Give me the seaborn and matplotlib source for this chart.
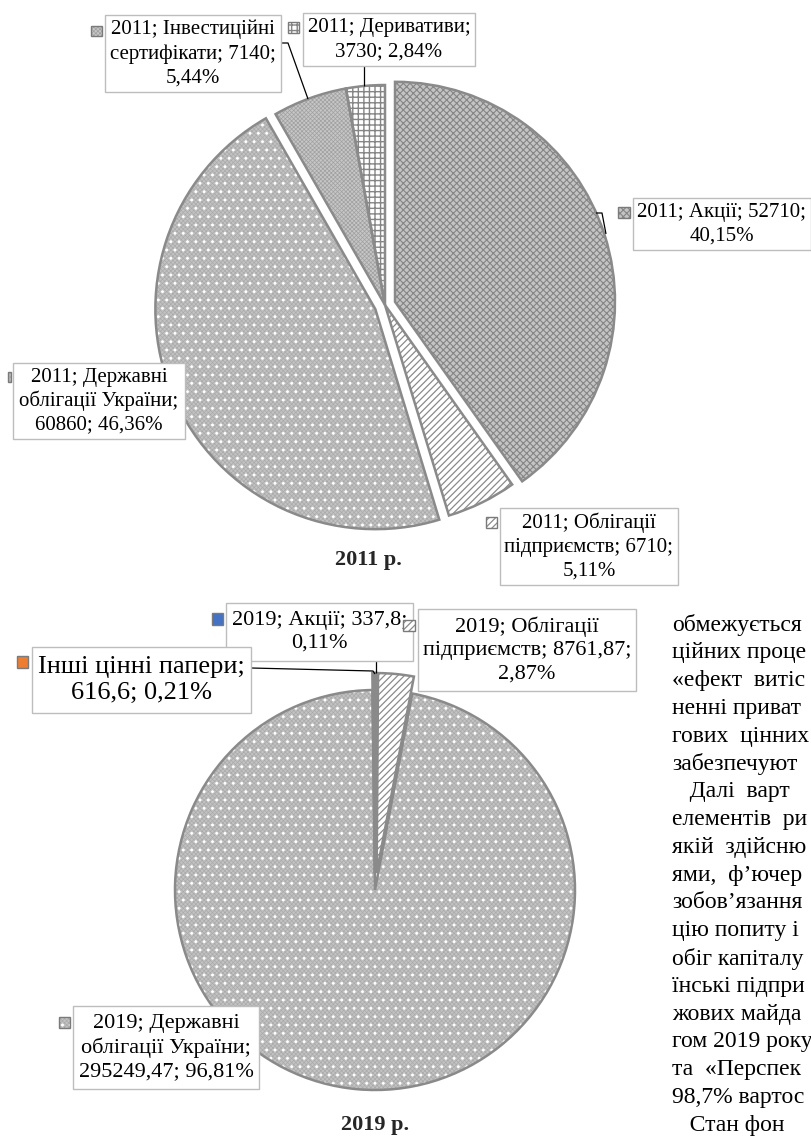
import matplotlib
matplotlib.use("Agg")
import matplotlib.pyplot as plt
from matplotlib.patches import Rectangle
import seaborn as sns

sns.set_theme(style="white")
plt.rcParams["font.family"] = ["Liberation Serif", "DejaVu Serif"]
plt.rcParams["hatch.linewidth"] = 0.8

# ---------------- data ----------------
cats_2011 = ["Акції", "Облігації підприємств", "Державні облігації України",
             "Інвестиційні сертифікати", "Деривативи"]
vals_2011 = [52710, 6710, 60860, 7140, 3730]
pct_2011 = ["40,15%", "5,11%", "46,36%", "5,44%", "2,84%"]
labels_2011 = ["2011; Акції; 52710;\n40,15%",
               "2011; Облігації\nпідприємств; 6710;\n5,11%",
               "2011; Державні\nоблігації України;\n60860; 46,36%",
               "2011; Інвестиційні\nсертифікати; 7140;\n5,44%",
               "2011; Деривативи;\n3730; 2,84%"]

cats_2019 = ["Акції", "Облігації підприємств", "Державні облігації України",
             "Інші цінні папери"]
vals_2019 = [337.8, 8761.87, 295249.47, 616.6]
pct_2019 = ["0,11%", "2,87%", "96,81%", "0,21%"]
labels_2019 = ["2019; Акції; 337,8;\n0,11%",
               "2019; Облігації\nпідприємств; 8761,87;\n2,87%",
               "2019; Державні\nоблігації України;\n295249,47; 96,81%",
               "Інші цінні папери;\n616,6; 0,21%"]

titles = ["2011 р.", "2019 р."]

body_lines = ["обмежується", "ційних проце", "«ефект  витіс", "ненні приват",
              "гових  цінних", "забезпечуют", "   Далі  варт", "елементів  ри",
              "якій  здійсню", "ями,  ф’ючер", "зобов’язання", "цію попиту і",
              "обіг капіталу", "їнські підпри", "жових майда", "гом 2019 року",
              "та  «Перспек", "98,7% вартос", "   Стан фон"]

# ---------------- styles ----------------
EDGE = "#8a8a8a"
S_AKC = dict(face="#c4c4c4", layers=[("xxxxx", "#858585", 0.8)])
S_OBL = dict(face="white", layers=[("/////", "#8a8a8a", 0.9)])
S_DER = dict(face="#c2c2c2", layers=[("xxxxxxxx", "#a9a9a9", 0.45),
                                     ("..", "white", 0.9)])
S_INV = dict(face="#c6c6c6", layers=[("xxxxxxxx", "#a0a0a0", 0.5)])
S_DRV = dict(face="white", layers=[("+++", "#858585", 1.0)])
S_BLUE = dict(face="#4472C4", layers=[])
S_ORNG = dict(face="#ED7D31", layers=[])
styles_2011 = [S_AKC, S_OBL, S_DER, S_INV, S_DRV]
styles_2019 = [S_BLUE, S_OBL, S_DER, S_ORNG]

fig = plt.figure(figsize=(8.12, 11.4), dpi=100)
ax = fig.add_axes([0, 0, 1, 1])


def apply_hatch(p, h, c, lw):
    p.set_hatch(h)
    p.set_edgecolor(c)
    p.set_linewidth(0)
    p.set_facecolor("none")
    if hasattr(p, "set_hatch_linewidth"):
        p.set_hatch_linewidth(lw)


def draw_pie(vals, styles, center, radius, explode):
    common = dict(startangle=-90, counterclock=True, center=center,
                  radius=radius, explode=explode, frame=True)
    n = len(vals)
    ax.pie(vals, colors=[s["face"] for s in styles],
           wedgeprops=dict(linewidth=0, edgecolor="none"), **common)
    nl = max(len(s["layers"]) for s in styles)
    for k in range(nl):
        ws, _ = ax.pie(vals, colors=["none"] * n,
                       wedgeprops=dict(linewidth=0), **common)
        for w, s in zip(ws, styles):
            if k < len(s["layers"]):
                apply_hatch(w, *s["layers"][k])
            else:
                w.set_visible(False)
    ax.pie(vals, colors=["none"] * n,
           wedgeprops=dict(linewidth=1.8, edgecolor=EDGE), **common)


def key(x0, y0, x1, y1, s):
    ax.add_patch(Rectangle((x0, y0), x1 - x0, y1 - y0, fc=s["face"],
                           ec="none", lw=0, zorder=6))
    for h, c, lw in s["layers"]:
        r = Rectangle((x0, y0), x1 - x0, y1 - y0, zorder=6)
        apply_hatch(r, h, c, lw)
        ax.add_patch(r)
    ax.add_patch(Rectangle((x0, y0), x1 - x0, y1 - y0, fc="none",
                           ec="#7a7a7a", lw=1.0, zorder=6))


def label_box(x0, y0, x1, y1, txt, fs=15, ls=1.34, z=4):
    ax.add_patch(Rectangle((x0, y0), x1 - x0, y1 - y0, fc="white",
                           ec="#bdbdbd", lw=1.0, zorder=z))
    ax.text((x0 + x1) / 2, (y0 + y1) / 2, txt, ha="center", va="center",
            multialignment="center", fontsize=fs, linespacing=ls,
            color="black", zorder=z + 0.5)


def leader(pts):
    ax.plot([p[0] for p in pts], [p[1] for p in pts], color="black",
            lw=0.9, zorder=3, solid_capstyle="butt")


# ---------------- 2011 pie ----------------
draw_pie(vals_2011, styles_2011, (385, 305), 220, [10.5, 0, 10.5, 0, 0])
leader([(281, 43), (288, 43), (308, 99)])
leader([(364, 66), (364, 86)])
leader([(596, 213), (602, 213), (606, 234)])

label_box(633, 198, 811, 250, labels_2011[0])
key(618, 207, 630, 218, styles_2011[0])
label_box(500, 508, 678, 585, labels_2011[1])
key(486, 517, 497, 528, styles_2011[1])
label_box(13, 363, 185, 439, labels_2011[2], ls=1.25)
key(8, 372, 11, 382, styles_2011[2])
label_box(105, 15, 281, 92, labels_2011[3])
key(91, 26, 102, 36, styles_2011[3])
label_box(303, 13, 475, 66, labels_2011[4])
key(288, 22, 299, 33, styles_2011[4])
ax.text(368, 560, titles[0], ha="center", va="center", fontsize=16,
        fontweight="bold")

# ---------------- 2019 pie ----------------
draw_pie(vals_2019, styles_2019, (375, 890), 200, [17, 17, 0, 17])
leader([(376, 661), (376, 673)])
leader([(251, 668), (373, 671), (375, 674)])

label_box(226, 603, 413, 661, labels_2019[0], fs=16, ls=1.25)
key(212, 613, 223, 625, styles_2019[0])
label_box(418, 609, 636, 691, labels_2019[1], fs=16, ls=1.3)
key(403, 620, 415, 631, styles_2019[1])
label_box(73, 1006, 259, 1089, labels_2019[2], fs=16, ls=1.3)
key(59, 1017, 70, 1028, styles_2019[2])
label_box(32, 647, 251, 713, labels_2019[3], fs=19, ls=1.25, z=5)
key(17, 656, 28, 668, styles_2019[3])
ax.text(375, 1125, titles[1], ha="center", va="center", fontsize=16,
        fontweight="bold")

# ---------------- body text fragment ----------------
for i, line in enumerate(body_lines):
    ax.text(672, 625 + i * 27.8, line, ha="left", va="center", fontsize=17,
            color="black")

ax.set_xlim(0, 812)
ax.set_ylim(1140, 0)
ax.set_aspect("auto")
ax.axis("off")
fig.savefig("out.png", dpi=100, facecolor="white")
